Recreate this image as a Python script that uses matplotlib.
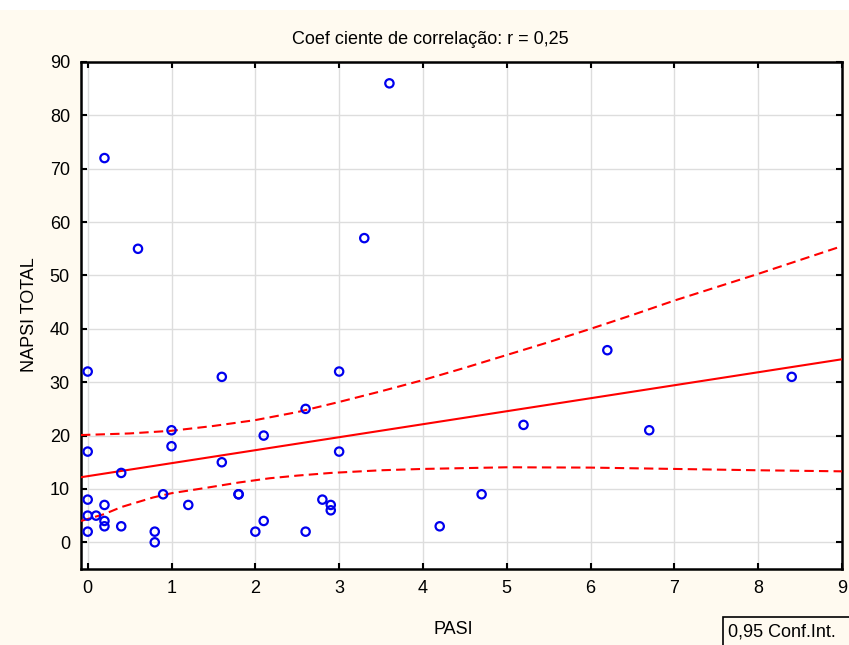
import numpy as np
import matplotlib
matplotlib.use('Agg')
import matplotlib.pyplot as plt

plt.rcParams['font.family'] = ['Liberation Sans', 'DejaVu Sans']

# dados (PASI x NAPSI TOTAL)
pasi = [0, 0, 0, 0, 0, 0.1, 0.2, 0.2, 0.2, 0.2, 0.4, 0.4, 0.6, 0.8, 0.8, 0.9,
        1.0, 1.0, 1.2, 1.6, 1.6, 1.8, 1.8, 2.0, 2.1, 2.1, 2.6, 2.6, 2.8, 2.9,
        2.9, 3.0, 3.0, 3.3, 3.6, 4.2, 4.7, 5.2, 6.2, 6.7, 8.4]
napsi = [32, 17, 8, 5, 2, 5, 72, 7, 4, 3, 13, 3, 55, 2, 0, 9,
         21, 18, 7, 31, 15, 9, 9, 2, 20, 4, 25, 2, 8, 7,
         6, 32, 17, 57, 86, 3, 9, 22, 36, 21, 31]

# reta de regressão (extremos lidos)
reta_x = [-0.08, 9]
reta_y = [12.2, 34.3]

# intervalo de confiança 0,95 (valores lidos)
ic_sup_x = [-0.08, 0.5, 1.0, 1.5, 2.0, 2.5, 3.0, 3.5, 4.0, 4.5, 5.0, 5.5, 6.0, 6.5, 7.0, 7.5, 8.0, 8.5, 9.0]
ic_sup_y = [20.1, 20.4, 20.9, 21.8, 22.9, 24.4, 26.3, 28.3, 30.4, 32.7, 35.1, 37.5, 40.0, 42.6, 45.3, 47.8, 50.3, 52.9, 55.5]
ic_inf_x = [-0.08, 0.2, 0.4, 0.78, 1.0, 1.37, 1.8, 2.17, 2.5, 2.9, 3.5, 4.0, 5.0, 6.0, 7.0, 8.0, 9.0]
ic_inf_y = [4.0, 5.3, 6.6, 8.4, 9.2, 10.1, 11.2, 12.0, 12.5, 13.0, 13.5, 13.75, 14.06, 14.0, 13.75, 13.5, 13.3]

bg = '#fffaf0'
fs = 13
fig = plt.figure(figsize=(8.49, 6.45), dpi=100)
fig.patch.set_facecolor('white')
fig.patches.append(plt.Rectangle((0, 0), 1, 1 - 10 / 645, transform=fig.transFigure,
                                 facecolor=bg, edgecolor='none', zorder=-10))
ax = fig.add_axes([81 / 849, 1 - 569 / 645, (842 - 81) / 849, (569 - 62) / 645])
ax.set_facecolor('white')

ax.plot(reta_x, reta_y, color='red', lw=1.5, zorder=3)
ax.plot(ic_sup_x, ic_sup_y, color='red', lw=1.5, ls=(0, (4.5, 2.5)), zorder=3)
ax.plot(ic_inf_x, ic_inf_y, color='red', lw=1.5, ls=(0, (4.5, 2.5)), zorder=3)
ax.scatter(pasi, napsi, s=36, facecolors='none', edgecolors='#0000ee', linewidths=1.6, zorder=4)

ax.set_xlim(-0.08, 9)
ax.set_ylim(-5, 90)
ax.set_xticks(range(0, 10))
ax.set_yticks(range(0, 100, 10))
ax.grid(True, color='#dddddd', lw=1)
ax.set_axisbelow(True)
ax.tick_params(direction='in', length=4, width=1.5, labelsize=fs, colors='black',
               top=True, right=True, pad=8)
for sp in ax.spines.values():
    sp.set_linewidth(1.8)

fig.text(430 / 849, 1 - 40 / 645, 'Coef ciente de correlação: r = 0,25', fontsize=fs,
         ha='center', va='center')
fig.text(453 / 849, 1 - 629 / 645, 'PASI', fontsize=fs, ha='center', va='center')
fig.text(30 / 849, 1 - 315 / 645, 'NAPSI TOTAL', fontsize=fs, ha='center', va='center',
         rotation=90)

fig.patches.append(plt.Rectangle((723 / 849, -0.05), 0.3, 1 - 617 / 645 + 0.05,
                                 transform=fig.transFigure, facecolor=bg,
                                 edgecolor='black', lw=1.2))
fig.text(728 / 849, 1 - 632 / 645, '0,95 Conf.Int.', fontsize=fs, va='center', ha='left')

fig.savefig('out.png', dpi=100)
